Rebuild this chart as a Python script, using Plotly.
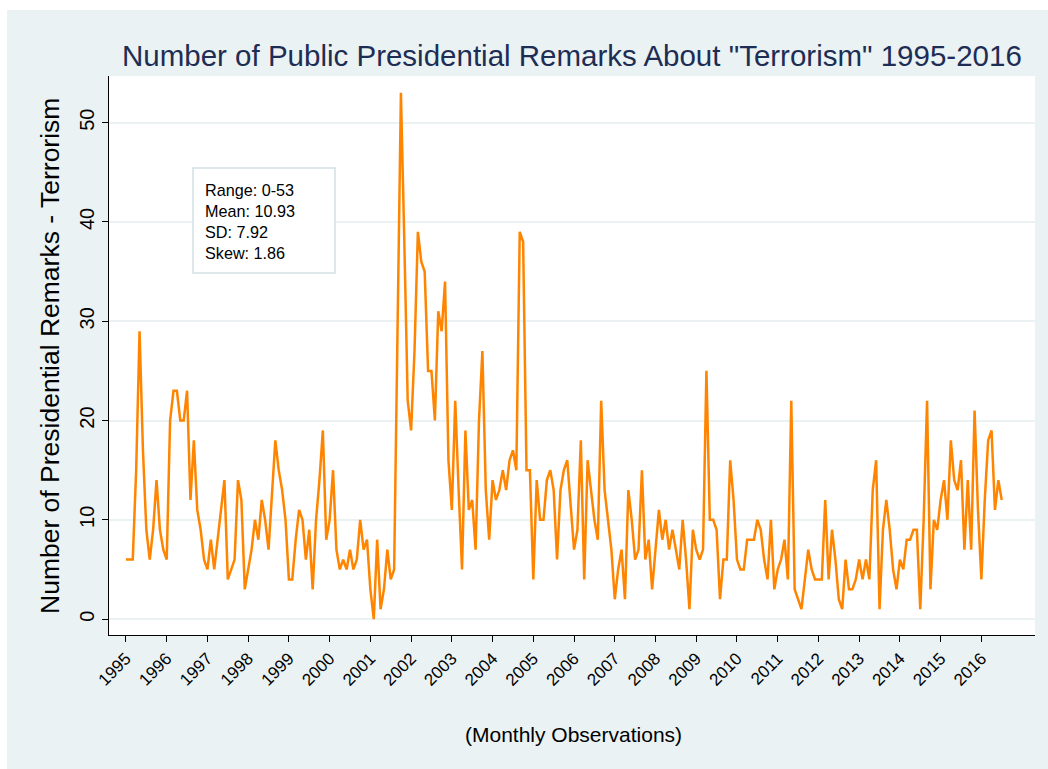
import plotly.graph_objects as go

# Monthly counts, January 1995 onward
counts_1995_1998 = [6, 6, 6, 15, 29, 17, 9, 6, 9, 14, 9, 7,
                    6, 20, 23, 23, 20, 20, 23, 12, 18, 11, 9, 6,
                    5, 8, 5, 8, 11, 14, 4, 5, 6, 14, 12, 3,
                    5, 7, 10, 8, 12, 10, 7, 12, 18, 15, 13, 10]
counts_1999_2002 = [4, 4, 8, 11, 10, 6, 9, 3, 10, 14, 19, 8,
                    10, 15, 7, 5, 6, 5, 7, 5, 6, 10, 7, 8,
                    3, 0, 8, 1, 3, 7, 4, 5, 29, 53, 38, 22,
                    19, 27, 39, 36, 35, 25, 25, 20, 31, 29, 34, 16]
counts_2003_2006 = [11, 22, 13, 5, 19, 11, 12, 7, 20, 27, 13, 8,
                    14, 12, 13, 15, 13, 16, 17, 15, 39, 38, 15, 15,
                    4, 14, 10, 10, 14, 15, 13, 6, 13, 15, 16, 11,
                    7, 9, 18, 4, 16, 13, 10, 8, 22, 13, 10, 7]
counts_2007_2010 = [2, 5, 7, 2, 13, 10, 6, 7, 15, 6, 8, 3,
                    7, 11, 8, 10, 7, 9, 7, 5, 10, 6, 1, 9,
                    7, 6, 7, 25, 10, 10, 9, 2, 6, 6, 16, 12,
                    6, 5, 5, 8, 8, 8, 10, 9, 6, 4, 10, 3]
counts_2011_2014 = [5, 6, 8, 4, 22, 3, 2, 1, 4, 7, 5, 4,
                    4, 4, 12, 4, 9, 6, 2, 1, 6, 3, 3, 4,
                    6, 4, 6, 4, 13, 16, 1, 9, 12, 9, 5, 3,
                    6, 5, 8, 8, 9, 9, 1, 10, 22, 3, 10, 9]
counts_2015_2016 = [12, 14, 10, 18, 14, 13, 16, 7, 14, 7, 21, 11,
                    4, 12, 18, 19, 11, 14, 12]

counts = (counts_1995_1998 + counts_1999_2002 + counts_2003_2006
          + counts_2007_2010 + counts_2011_2014 + counts_2015_2016)
start_year = 1995
months = [start_year + i / 12 for i in range(len(counts))]

year_ticks = list(range(1995, 2017))
year_labels = [str(y) for y in year_ticks]
y_ticks = [0, 10, 20, 30, 40, 50]

title_text = 'Number of Public Presidential Remarks About "Terrorism" 1995-2016'
y_title = "Number of Presidential Remarks - Terrorism"
x_title = "(Monthly Observations)"
stats_lines = ["Range: 0-53", "Mean: 10.93", "SD: 7.92", "Skew: 1.86"]

# ---- layout geometry (pixels) ----
W, H = 1048, 769
PL, PR, PT, PB = 109, 1035, 76, 635
pw, ph = PR - PL, PB - PT


def px(x):
    return (x - PL) / pw


def py(y):
    return (PB - y) / ph


FONT = "Liberation Sans, Arial, sans-serif"
BG = "#eaf2f3"
ORANGE = "#ff8500"

fig = go.Figure()
fig.add_trace(go.Scatter(x=months, y=counts, mode="lines",
                         line=dict(color=ORANGE, width=2.5),
                         hoverinfo="skip", showlegend=False))

shapes = [
    dict(type="rect", xref="paper", yref="paper", layer="below",
         x0=px(7), x1=px(W + 5), y0=py(H + 5), y1=py(10),
         fillcolor=BG, line=dict(width=0)),
    dict(type="rect", xref="paper", yref="paper", layer="below",
         x0=0, x1=1, y0=0, y1=1, fillcolor="white", line=dict(width=0)),
    dict(type="rect", xref="paper", yref="paper", layer="above",
         x0=px(193), x1=px(335), y0=py(273), y1=py(168),
         fillcolor="white", line=dict(color="#d3dfe4", width=1.5)),
]

annotations = [
    dict(text=title_text, xref="paper", yref="paper", x=px(572), y=py(55),
         xanchor="center", yanchor="middle", showarrow=False,
         font=dict(family=FONT, size=29.5, color="#1e2d53")),
    dict(text=y_title, xref="paper", yref="paper", x=px(50), y=py(356),
         xanchor="center", yanchor="middle", textangle=-90, showarrow=False,
         font=dict(family=FONT, size=26.5, color="black")),
    dict(text=x_title, xref="paper", yref="paper", x=px(573), y=py(734),
         xanchor="center", yanchor="middle", showarrow=False,
         font=dict(family=FONT, size=21, color="black")),
    dict(text="<br>".join(stats_lines), xref="paper", yref="paper",
         x=px(203), y=py(221), xanchor="left", yanchor="middle",
         align="left", showarrow=False,
         font=dict(family=FONT, size=16.2, color="black")),
]

fig.update_layout(
    width=W, height=H,
    margin=dict(l=PL, r=W - PR, t=PT, b=H - PB, pad=0),
    paper_bgcolor="white", plot_bgcolor="rgba(0,0,0,0)",
    shapes=shapes, annotations=annotations,
    font=dict(family=FONT, color="black"),
)
fig.update_xaxes(range=[start_year - 5 / 12, start_year + 267.8 / 12],
                 tickmode="array", tickvals=year_ticks, ticktext=year_labels,
                 tickangle=-45, ticks="outside", ticklen=6, tickcolor="black",
                 tickwidth=1, showline=True, linecolor="black", linewidth=1,
                 showgrid=False, zeroline=False,
                 tickfont=dict(family=FONT, size=17, color="black"))
fig.update_yaxes(range=[-1.6, 54.7], tickmode="array", tickvals=y_ticks,
                 tickangle=-90, ticks="outside", ticklen=6, tickcolor="black",
                 tickwidth=1, showline=True, linecolor="black", linewidth=1,
                 showgrid=True, gridcolor=BG, gridwidth=2, zeroline=False,
                 tickfont=dict(family=FONT, size=20, color="black"))

fig.write_html("out.html")
